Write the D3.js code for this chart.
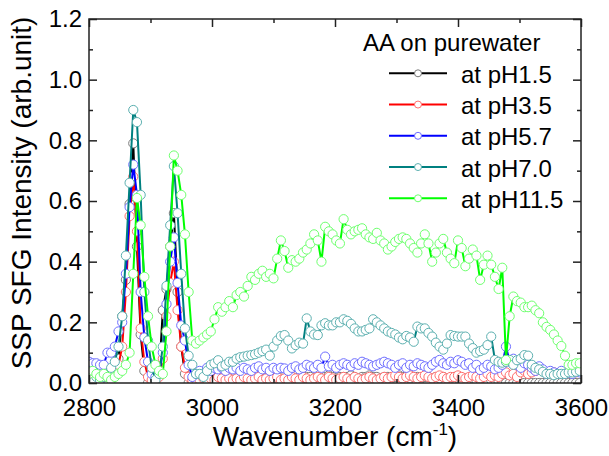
<!DOCTYPE html>
<html>
<head>
<meta charset="utf-8">
<script src="https://cdn.jsdelivr.net/npm/d3@7"></script>
<style>
  html, body { margin: 0; padding: 0; background: #fff; }
  svg text { font-family: Arial, "Liberation Sans", sans-serif; fill: #000; }
</style>
</head>
<body>
<div id="chart"></div>
<script>
// x grid (cm-1)
var wavenumber = [
  2800,2806,2812,2818,2824,2830,2836,2842,2848,2854,
  2860,2866,2872,2878,2884,2890,2896,2902,2908,2914,
  2920,2926,2932,2938,2944,2950,2956,2962,2968,2974,
  2980,2986,2992,2998,3004,3010,3016,3022,3028,3034,
  3040,3046,3052,3058,3064,3070,3076,3082,3088,3094,
  3100,3106,3112,3118,3124,3130,3136,3142,3148,3154,
  3160,3166,3172,3178,3184,3190,3196,3202,3208,3214,
  3220,3226,3232,3238,3244,3250,3256,3262,3268,3274,
  3280,3286,3292,3298,3304,3310,3316,3322,3328,3334,
  3340,3346,3352,3358,3364,3370,3376,3382,3388,3394,
  3400,3406,3412,3418,3424,3430,3436,3442,3448,3454,
  3460,3466,3472,3478,3484,3490,3496,3502,3508,3514,
  3520,3526,3532,3538,3544,3550,3556,3562,3568,3574,
  3580,3586,3592,3598
];

var pH1_5 = [
  0.0,0.01,0.0,0.01,0.02,0.01,0.02,0.03,0.08,0.22,
  0.34,0.59,0.79,0.45,0.16,0.04,0.0,0.0,0.0,0.03,
  0.24,0.31,0.45,0.56,0.30,0.12,0.03,0.0,0.0,0.0,
  0.0,0.005,0.01,0.01,0.015,0.01,0.015,0.01,0.015,0.01,
  0.015,0.01,0.015,0.02,0.015,0.01,0.015,0.02,0.015,0.01,
  0.015,0.02,0.015,0.01,0.015,0.02,0.015,0.02,0.015,0.02,
  0.02,0.015,0.02,0.015,0.02,0.025,0.02,0.015,0.02,0.02,
  0.02,0.025,0.02,0.015,0.02,0.02,0.025,0.02,0.02,0.015,
  0.02,0.02,0.015,0.02,0.025,0.02,0.02,0.015,0.02,0.02,
  0.015,0.02,0.02,0.015,0.02,0.015,0.02,0.015,0.015,0.02,
  0.015,0.01,0.015,0.01,0.015,0.01,0.01,0.015,0.01,0.01,
  0.01,0.005,0.005,0.0,0.0,0.0,0.0,0.0,0.0,0.0,
  0.0,0.0,0.0,0.0,0.0,0.0,0.0,0.0,0.0,0.0,
  0.0,0.0,0.0,0.0
];

var pH3_5 = [
  0.01,0.01,0.02,0.01,0.02,0.02,0.03,0.04,0.06,0.12,
  0.30,0.55,0.68,0.50,0.18,0.07,0.02,0.01,0.01,0.02,
  0.08,0.22,0.33,0.40,0.24,0.12,0.05,0.02,0.01,0.01,
  0.01,0.015,0.01,0.015,0.01,0.02,0.015,0.01,0.015,0.01,
  0.015,0.01,0.02,0.015,0.01,0.015,0.02,0.01,0.015,0.01,
  0.015,0.02,0.01,0.015,0.01,0.02,0.015,0.01,0.02,0.015,
  0.01,0.015,0.02,0.015,0.01,0.02,0.015,0.01,0.015,0.02,
  0.015,0.01,0.02,0.015,0.01,0.015,0.02,0.015,0.01,0.015,
  0.02,0.015,0.02,0.025,0.02,0.015,0.02,0.025,0.02,0.015,
  0.02,0.025,0.02,0.015,0.02,0.025,0.02,0.015,0.02,0.02,
  0.025,0.02,0.015,0.02,0.025,0.02,0.015,0.02,0.03,0.02,
  0.025,0.02,0.03,0.035,0.025,0.03,0.02,0.035,0.04,0.03,
  0.035,0.04,0.045,0.04,0.035,0.03,0.035,0.03,0.035,0.03,
  0.035,0.04,0.035,0.04
];

var pH5_7 = [
  0.07,0.065,0.065,0.06,0.06,0.10,0.10,0.12,0.17,0.20,
  0.36,0.58,0.72,0.62,0.30,0.15,0.07,0.03,0.02,0.03,
  0.10,0.26,0.40,0.48,0.33,0.19,0.14,0.06,0.02,0.03,
  0.04,0.03,0.05,0.04,0.05,0.045,0.05,0.04,0.05,0.045,
  0.05,0.04,0.05,0.045,0.04,0.05,0.055,0.045,0.05,0.04,
  0.05,0.045,0.05,0.048,0.04,0.05,0.055,0.045,0.05,0.06,
  0.055,0.05,0.06,0.05,0.087,0.055,0.06,0.05,0.06,0.065,
  0.06,0.055,0.065,0.06,0.07,0.065,0.06,0.055,0.06,0.065,
  0.07,0.065,0.06,0.05,0.06,0.065,0.05,0.06,0.055,0.065,
  0.06,0.055,0.05,0.06,0.07,0.076,0.065,0.06,0.07,0.065,
  0.075,0.07,0.06,0.065,0.05,0.06,0.043,0.05,0.06,0.055,
  0.045,0.05,0.06,0.12,0.07,0.08,0.06,0.05,0.065,0.06,
  0.05,0.04,0.055,0.045,0.03,0.04,0.035,0.03,0.04,0.03,
  0.035,0.03,0.04,0.035
];

var pH7_0 = [
  0.02,0.01,0.02,0.01,0.02,0.03,0.05,0.07,0.12,0.22,
  0.42,0.66,0.90,0.86,0.62,0.30,0.14,0.05,0.01,0.03,
  0.12,0.32,0.52,0.715,0.56,0.36,0.18,0.09,0.06,0.03,
  0.03,0.02,0.04,0.06,0.065,0.075,0.055,0.06,0.07,0.07,
  0.08,0.085,0.087,0.09,0.092,0.095,0.10,0.105,0.11,0.09,
  0.12,0.14,0.155,0.158,0.14,0.114,0.125,0.133,0.13,0.213,
  0.17,0.16,0.158,0.19,0.197,0.19,0.19,0.20,0.20,0.21,
  0.205,0.195,0.18,0.17,0.17,0.175,0.18,0.21,0.20,0.19,
  0.18,0.17,0.165,0.16,0.15,0.144,0.155,0.15,0.136,0.186,
  0.18,0.18,0.165,0.153,0.133,0.12,0.11,0.13,0.158,0.155,
  0.153,0.153,0.153,0.13,0.115,0.10,0.105,0.11,0.125,0.153,
  0.076,0.07,0.067,0.07,0.076,0.06,0.075,0.08,0.092,0.09,
  0.06,0.05,0.045,0.037,0.03,0.03,0.026,0.03,0.03,0.03,
  0.035,0.035,0.037,0.04
];

var pH11_5 = [
  0.03,0.04,0.03,0.02,0.03,0.02,0.01,0.02,0.03,0.04,
  0.06,0.10,0.36,0.61,0.52,0.35,0.22,0.12,0.06,0.04,
  0.03,0.17,0.45,0.75,0.70,0.62,0.49,0.30,0.14,0.13,
  0.14,0.15,0.16,0.17,0.21,0.25,0.235,0.25,0.27,0.25,
  0.29,0.30,0.285,0.32,0.35,0.34,0.36,0.37,0.35,0.36,
  0.345,0.41,0.47,0.435,0.38,0.405,0.40,0.41,0.43,0.44,
  0.46,0.49,0.47,0.40,0.515,0.50,0.49,0.47,0.46,0.54,
  0.505,0.49,0.50,0.505,0.51,0.49,0.48,0.475,0.495,0.47,
  0.46,0.44,0.45,0.465,0.475,0.48,0.475,0.46,0.445,0.43,
  0.46,0.49,0.46,0.40,0.43,0.46,0.475,0.43,0.41,0.395,
  0.47,0.445,0.385,0.41,0.44,0.42,0.34,0.39,0.42,0.39,
  0.35,0.31,0.38,0.076,0.22,0.285,0.27,0.265,0.25,0.25,
  0.255,0.24,0.23,0.20,0.185,0.175,0.16,0.14,0.122,0.09,
  0.06,0.06,0.065,0.065
];

var seriesNames = ["at pH1.5", "at pH3.5", "at pH5.7", "at pH7.0", "at pH11.5"];
var seriesValues = [pH1_5, pH3_5, pH5_7, pH7_0, pH11_5];
var lineColors = ["#000000", "#ff0000", "#0000ff", "#008080", "#00ff00"];
var markerColors = ["#7a7a7a", "#ff6e6e", "#6e6eff", "#5cb0b0", "#6eff6e"];

var xMajor = [2800, 3000, 3200, 3400, 3600];
var xMinor = [2900, 3100, 3300, 3500];
var yMajor = [0.0, 0.2, 0.4, 0.6, 0.8, 1.0, 1.2];
var yMinor = [0.1, 0.3, 0.5, 0.7, 0.9, 1.1];

seriesValues.forEach(function (s, i) {
  if (s.length !== wavenumber.length) throw new Error(seriesNames[i] + " has " + s.length + " values");
});

var width = 609, height = 456;
var plot = { left: 89, right: 581, top: 19, bottom: 383 };
var font = "Arial, 'Liberation Sans', sans-serif";

var svg = d3.select("#chart").append("svg")
  .attr("width", width)
  .attr("height", height);

var x = d3.scaleLinear().domain([2800, 3600]).range([plot.left, plot.right]);
var y = d3.scaleLinear().domain([0, 1.2]).range([plot.bottom, plot.top]);

svg.append("clipPath").attr("id", "clip")
  .append("rect")
  .attr("x", plot.left).attr("y", plot.top)
  .attr("width", plot.right - plot.left).attr("height", plot.bottom - plot.top);

// data: line then symbols for each series, in legend order
var dataG = svg.append("g").attr("clip-path", "url(#clip)");
var line = d3.line()
  .x(function (d) { return x(d[0]); })
  .y(function (d) { return y(d[1]); });

seriesValues.forEach(function (vals, i) {
  var pts = wavenumber.map(function (w, j) { return [w, vals[j]]; });
  dataG.append("path")
    .attr("d", line(pts))
    .attr("fill", "none")
    .attr("stroke", lineColors[i])
    .attr("stroke-width", 2)
    .attr("stroke-linejoin", "round");
  dataG.selectAll(".pt" + i)
    .data(pts)
    .enter().append("circle")
    .attr("class", "pt" + i)
    .attr("cx", function (d) { return x(d[0]); })
    .attr("cy", function (d) { return y(d[1]); })
    .attr("r", 4.6)
    .attr("fill", "#fff")
    .attr("stroke", markerColors[i])
    .attr("stroke-width", 1);
});

// axes, ticks pointing inward
function styleAxis(g) {
  g.select(".domain").remove();
  g.selectAll("line").attr("stroke", "#222").attr("stroke-width", 1.5);
  g.attr("font-size", 24).attr("font-family", font);
  g.selectAll("text").attr("fill", "#000");
}

svg.append("g").attr("transform", "translate(0," + plot.bottom + ")")
  .call(d3.axisBottom(x).tickValues(xMajor).tickSize(-8).tickPadding(16).tickFormat(d3.format("d")))
  .call(styleAxis);
svg.append("g").attr("transform", "translate(0," + plot.bottom + ")")
  .call(d3.axisBottom(x).tickValues(xMinor).tickSize(-4).tickFormat(""))
  .call(styleAxis);
svg.append("g").attr("transform", "translate(0," + plot.top + ")")
  .call(d3.axisTop(x).tickValues(xMajor).tickSize(-8).tickFormat(""))
  .call(styleAxis);
svg.append("g").attr("transform", "translate(0," + plot.top + ")")
  .call(d3.axisTop(x).tickValues(xMinor).tickSize(-4).tickFormat(""))
  .call(styleAxis);

svg.append("g").attr("transform", "translate(" + plot.left + ",0)")
  .call(d3.axisLeft(y).tickValues(yMajor).tickSize(-8).tickPadding(7).tickFormat(d3.format(".1f")))
  .call(styleAxis);
svg.append("g").attr("transform", "translate(" + plot.left + ",0)")
  .call(d3.axisLeft(y).tickValues(yMinor).tickSize(-4).tickFormat(""))
  .call(styleAxis);
svg.append("g").attr("transform", "translate(" + plot.right + ",0)")
  .call(d3.axisRight(y).tickValues(yMajor).tickSize(-8).tickFormat(""))
  .call(styleAxis);
svg.append("g").attr("transform", "translate(" + plot.right + ",0)")
  .call(d3.axisRight(y).tickValues(yMinor).tickSize(-4).tickFormat(""))
  .call(styleAxis);

// frame
svg.append("rect")
  .attr("x", plot.left).attr("y", plot.top)
  .attr("width", plot.right - plot.left).attr("height", plot.bottom - plot.top)
  .attr("fill", "none")
  .attr("stroke", "#222")
  .attr("stroke-width", 1.5);

// axis titles
var xTitle = svg.append("text")
  .attr("x", (plot.left + plot.right) / 2)
  .attr("y", 446)
  .attr("text-anchor", "middle")
  .attr("font-size", 28);
xTitle.append("tspan").text("Wavenumber (cm");
xTitle.append("tspan").attr("font-size", 17).attr("dy", -11).text("-1");
xTitle.append("tspan").attr("dy", 11).text(")");

svg.append("text")
  .attr("transform", "translate(31," + 193 + ") rotate(-90)")
  .attr("text-anchor", "middle")
  .attr("font-size", 28)
  .text("SSP SFG Intensity (arb.unit)");

// legend
var legend = svg.append("g");
legend.append("text")
  .attr("x", 363).attr("y", 51)
  .attr("font-size", 24)
  .text("AA on purewater");

var rows = legend.selectAll(".row")
  .data(seriesNames)
  .enter().append("g")
  .attr("class", "row")
  .attr("transform", function (d, i) { return "translate(0," + (73.3 + i * 31.25) + ")"; });

rows.append("line")
  .attr("x1", 389).attr("x2", 447)
  .attr("stroke", function (d, i) { return lineColors[i]; })
  .attr("stroke-width", 2);
rows.append("circle")
  .attr("cx", 418).attr("cy", 0).attr("r", 3.5)
  .attr("fill", "#fff")
  .attr("stroke", function (d, i) { return markerColors[i]; })
  .attr("stroke-width", 1);
rows.append("text")
  .attr("x", 461).attr("y", 9.5)
  .attr("font-size", 24)
  .text(function (d) { return d; });
</script>
</body>
</html>
